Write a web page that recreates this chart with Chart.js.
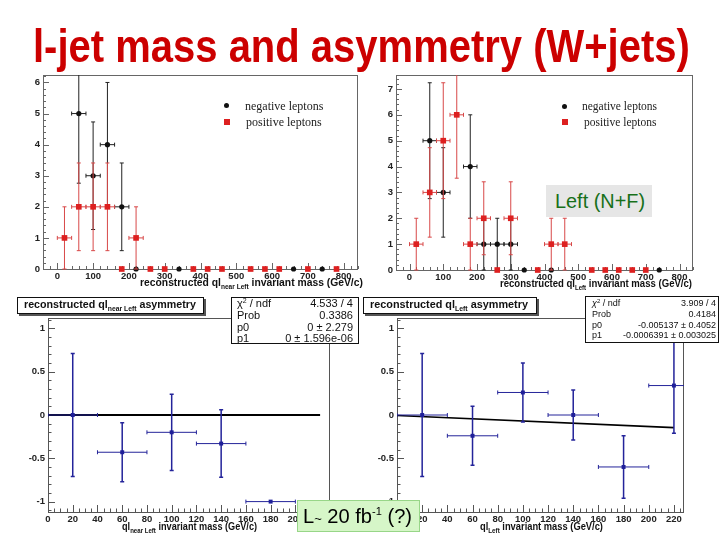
<!DOCTYPE html>
<html>
<head>
<meta charset="utf-8">
<title>l-jet mass and asymmetry (W+jets)</title>
<script src="https://cdn.jsdelivr.net/npm/chart.js@4.4.1/dist/chart.umd.min.js"></script>
<style>
  body { margin: 0; background: #fff; }
  #page { position: relative; width: 720px; height: 540px; overflow: hidden; font-family: "Liberation Sans", Arial, sans-serif; color: #111; }
  canvas { position: absolute; }
  .t { position: absolute; white-space: nowrap; line-height: 1; transform-origin: 0 50%; }
  .r { transform-origin: 100% 50%; }
  .b { font-weight: bold; }
  .sub { font-size: 7px; position: relative; top: 3px; }
  .sup { position: relative; line-height: 0; }
  .box { position: absolute; background: #fff; border: 1px solid #111; box-sizing: border-box; }
  .shadow { box-shadow: 2px 2px 0 #555; }
  .leg { font-family: "Liberation Serif", "DejaVu Serif", serif; color: #222; }
  .dot { position: absolute; width: 5px; height: 5px; border-radius: 50%; background: #111; }
  .sq { position: absolute; width: 6px; height: 6px; background: #dd2020; }
</style>
</head>
<body>
<div id="page">
  <canvas id="cTL"></canvas>
  <canvas id="cTR"></canvas>
  <canvas id="cBL"></canvas>
  <canvas id="cBR"></canvas>

  <div class="t b fit" data-w="657" style="left:33px;top:22px;font-size:47px;line-height:47px;color:#cc0000">l-jet mass and asymmetry (W+jets)</div>

  <!-- top legends -->
  <div class="dot" style="left:224px;top:103px"></div>
  <div class="sq" style="left:224px;top:119px"></div>
  <div class="t leg" style="left:245px;top:100px;font-size:12px">negative leptons</div>
  <div class="t leg" style="left:246px;top:116px;font-size:12px">positive leptons</div>
  <div class="dot" style="left:562px;top:104px"></div>
  <div class="sq" style="left:562px;top:119px"></div>
  <div class="t leg" style="left:582px;top:101px;font-size:11.5px">negative leptons</div>
  <div class="t leg" style="left:584px;top:117px;font-size:11.5px">positive leptons</div>

  <!-- top axis titles -->
  <div class="t b fit" data-w="223" style="left:140px;top:277px;font-size:11px">reconstructed ql<span class="sub">near Left</span> invariant mass (GeV/c)</div>
  <div class="t b fit" data-w="192" style="left:500px;top:278px;font-size:11px">reconstructed ql<span class="sub">Left</span> invariant mass (GeV/c)</div>

  <div style="position:absolute;left:546px;top:185px;width:106px;height:32px;background:#e6e6e6"></div>
  <div class="t fit" data-w="90" style="left:555px;top:191px;font-size:20px;color:#17701a">Left (N+F)</div>

  <!-- bottom titles -->
  <div class="box shadow" style="left:17px;top:297px;width:187px;height:17px"></div>
  <div class="t b fit" data-w="172" style="left:24px;top:299px;font-size:11px">reconstructed ql<span class="sub">near Left</span> asymmetry</div>
  <div class="box shadow" style="left:363px;top:297px;width:174px;height:17px"></div>
  <div class="t b fit" data-w="158" style="left:370px;top:299px;font-size:11px">reconstructed ql<span class="sub">Left</span> asymmetry</div>

  <!-- stats boxes -->
  <div class="box" style="left:231px;top:297px;width:128px;height:47px"></div>
  <div class="t" style="left:237px;top:298px;font-size:11px">χ<span class="sup" style="font-size:7px;top:-4px">2</span> / ndf</div>
  <div class="t" style="left:237px;top:310px;font-size:11px">Prob</div>
  <div class="t" style="left:237px;top:321.5px;font-size:11px">p0</div>
  <div class="t" style="left:237px;top:333px;font-size:11px">p1</div>
  <div class="t r" style="right:367px;top:298px;font-size:11px">4.533 / 4</div>
  <div class="t r" style="right:367px;top:310px;font-size:11px">0.3386</div>
  <div class="t r" style="right:367px;top:321.5px;font-size:11px">0 ± 2.279</div>
  <div class="t r" style="right:367px;top:333px;font-size:11px">0 ± 1.596e-06</div>

  <div class="box" style="left:585px;top:296px;width:134px;height:47px"></div>
  <div class="t" style="left:592px;top:299px;font-size:9px"><i>χ</i><span class="sup" style="font-size:6px;top:-3px">2</span> / ndf</div>
  <div class="t" style="left:592px;top:310px;font-size:9px">Prob</div>
  <div class="t" style="left:592px;top:320.5px;font-size:9px">p0</div>
  <div class="t" style="left:592px;top:330.5px;font-size:9px">p1</div>
  <div class="t r" style="right:4px;top:299px;font-size:9px">3.909 / 4</div>
  <div class="t r" style="right:4px;top:310px;font-size:9px">0.4184</div>
  <div class="t r" style="right:4px;top:320.5px;font-size:9px">-0.005137 ± 0.4052</div>
  <div class="t r" style="right:4px;top:330.5px;font-size:9px">-0.0006391 ± 0.003025</div>

  <!-- bottom axis titles -->
  <div class="t b fit" data-w="135" style="left:122px;top:521px;font-size:10.5px">ql<span class="sub">near Left</span> invariant mass (GeV/c)</div>
  <div class="t b fit" data-w="123" style="left:480px;top:521px;font-size:10.5px">ql<span class="sub">Left</span> invariant mass (GeV/c)</div>

  <div style="position:absolute;left:297px;top:500px;width:123px;height:32px;background:#d6f6c8;border:1px solid #98d688;box-sizing:border-box"></div>
  <div class="t fit" data-w="109" style="left:303px;top:506px;font-size:20px;color:#000">L<span style="font-size:13px">~</span> 20 fb<span class="sup" style="font-size:11px;top:-8px">-1</span> (?)</div>
</div>

<script>
// tick labels
const xTicksMass = [0, 100, 200, 300, 400, 500, 600, 700, 800];
const yTicksNearLeft = [0, 1, 2, 3, 4, 5, 6];
const yTicksLeft = [0, 1, 2, 3, 4, 5, 6, 7];
const xTicksAsym = [0, 20, 40, 60, 80, 100, 120, 140, 160, 180, 200, 220];
const yTicksAsym = [-1, -0.5, 0, 0.5, 1];

// near Left mass (bin centre, entries, error)
const nearNegX = [60, 100, 140, 180, 220, 340, 660, 740];
const nearNegY = [5, 3, 4, 2, 0, 0, 0, 0];
const nearNegErr = [2.24, 1.73, 2, 1.41, 0, 0, 0, 0];
const nearPosX = [20, 60, 100, 140, 180, 220, 260, 300, 380, 420, 460, 540, 580, 620, 700, 780];
const nearPosY = [1, 2, 2, 2, 0, 1, 0, 0, 0, 0, 0, 0, 0, 0, 0, 0];
const nearPosErr = [1, 1.41, 1.41, 1.41, 0, 1, 0, 0, 0, 0, 0, 0, 0, 0, 0, 0];

// Left mass
const leftNegX = [60, 100, 180, 220, 260, 300, 340, 420, 740];
const leftNegY = [5, 3, 4, 1, 1, 1, 0, 0, 0];
const leftNegErr = [2.24, 1.73, 2, 1, 1, 1, 0, 0, 0];
const leftPosX = [20, 60, 100, 140, 180, 220, 260, 300, 380, 420, 460, 540, 580, 620, 660, 700];
const leftPosY = [1, 3, 5, 6, 1, 2, 0, 2, 0, 1, 1, 0, 0, 0, 0, 0];
const leftPosErr = [1, 1.73, 2.24, 2.45, 1, 1.41, 0, 1.41, 0, 1, 1, 0, 0, 0, 0, 0];
const massBinHalf = 20;

// asymmetry
const asymNearX = [20, 60, 100, 140, 180];
const asymNearY = [0, -0.43, -0.2, -0.33, -1];
const asymNearErr = [0.71, 0.34, 0.44, 0.39, 0];
const asymLeftX = [20, 60, 100, 140, 180, 220];
const asymLeftY = [0, -0.24, 0.26, 0, -0.6, 0.34];
const asymLeftErr = [0.71, 0.34, 0.34, 0.29, 0.36, 0.55];
const asymBinHalf = 20;

// fit lines, read at both ends
const fitNearX = [0, 220];
const fitNearY = [0, 0];
const fitLeftX = [0, 220];
const fitLeftY = [-0.005, -0.146];

const pts = (xs, ys) => xs.map((x, i) => ({ x: x, y: ys[i] }));

// ROOT-like frame with inward ticks
const rootFrame = {
    id: 'rootFrame',
    beforeDatasetsDraw(chart, args, o) {
        const { ctx, chartArea: a, scales: { x, y } } = chart;
        ctx.save();
        ctx.strokeStyle = o.color;
        ctx.lineWidth = 1;
        ctx.strokeRect(Math.round(a.left) + 0.5, Math.round(a.top) + 0.5, Math.round(a.width) - 1, Math.round(a.height));
        ctx.beginPath();
        const isMajor = (s, v) => s.ticks.some(t => Math.abs(t.value - v) < 1e-6);
        for (let n = Math.ceil(x.min / o.xMinor - 1e-9); n * o.xMinor <= x.max + 1e-9; n++) {
            const v = n * o.xMinor;
            const px = Math.round(x.getPixelForValue(v)) + 0.5;
            const len = isMajor(x, v) ? o.majorLen : o.minorLen;
            ctx.moveTo(px, a.bottom);
            ctx.lineTo(px, a.bottom - len);
        }
        for (let n = Math.ceil(y.min / o.yMinor - 1e-9); n * o.yMinor <= y.max + 1e-9; n++) {
            const v = n * o.yMinor;
            const py = Math.round(y.getPixelForValue(v)) + 0.5;
            const len = isMajor(y, v) ? o.majorLen : o.minorLen;
            ctx.moveTo(a.left, py);
            ctx.lineTo(a.left + len, py);
        }
        ctx.stroke();
        ctx.restore();
    }
};

// error bars drawn just under each dataset's markers
const errorBars = {
    id: 'errorBars',
    beforeDatasetDraw(chart, args) {
        const ds = chart.data.datasets[args.index];
        if (!ds.errY) return;
        const { ctx, chartArea: a, scales: { x, y } } = chart;
        const cap = ds.capSize || 2;
        ctx.save();
        ctx.beginPath();
        ctx.rect(a.left, a.top, a.width, a.height + 1);
        ctx.clip();
        ctx.strokeStyle = ds.errColor;
        ds.data.forEach((p, i) => {
            const cx = x.getPixelForValue(p.x), cy = y.getPixelForValue(p.y);
            const ey = ds.errY[i];
            if (ds.errX && !(ds.skipZero && p.y === 0)) {
                const x0 = x.getPixelForValue(p.x - ds.errX), x1 = x.getPixelForValue(p.x + ds.errX);
                ctx.beginPath();
                ctx.lineWidth = ds.errXWidth || 1;
                ctx.moveTo(x0, cy); ctx.lineTo(x1, cy);
                ctx.moveTo(x0, cy - cap); ctx.lineTo(x0, cy + cap);
                ctx.moveTo(x1, cy - cap); ctx.lineTo(x1, cy + cap);
                ctx.stroke();
            }
            if (ey) {
                const y0 = y.getPixelForValue(p.y - ey), y1 = y.getPixelForValue(p.y + ey);
                ctx.beginPath();
                ctx.lineWidth = ds.errYWidth || 1;
                ctx.moveTo(cx, y0); ctx.lineTo(cx, y1);
                ctx.moveTo(cx - cap, y0); ctx.lineTo(cx + cap, y0);
                ctx.moveTo(cx - cap, y1); ctx.lineTo(cx + cap, y1);
                ctx.stroke();
            }
        });
        ctx.restore();
    }
};

function scaleOpt(min, max, ticks, isX, size) {
    return {
        type: 'linear',
        min: min,
        max: max,
        grid: { display: false, drawTicks: false },
        border: { display: false },
        afterBuildTicks: s => { s.ticks = ticks.map(v => ({ value: v })); },
        afterFit: s => { if (isX) s.height = size; else s.width = size; },
        ticks: {
            autoSkip: false,
            maxRotation: 0,
            padding: isX ? 2 : 3,
            color: '#222',
            font: { family: 'Liberation Sans', size: 9.5, weight: 'bold' },
            callback: v => String(v)
        }
    };
}

function makeChart(id, box, area, o) {
    const cv = document.getElementById(id);
    cv.width = box.w;
    cv.height = box.h;
    cv.style.left = box.x + 'px';
    cv.style.top = box.y + 'px';
    return new Chart(cv, {
        type: 'scatter',
        data: { datasets: o.datasets },
        options: {
            responsive: false,
            animation: false,
            devicePixelRatio: 1,
            events: [],
            layout: {
                padding: {
                    left: area.l - box.x - o.yw,
                    top: area.t - box.y,
                    right: box.x + box.w - area.r,
                    bottom: box.y + box.h - area.b - o.xh
                }
            },
            scales: {
                x: scaleOpt(o.xMin, o.xMax, o.xTicks, true, o.xh),
                y: scaleOpt(o.yMin, o.yMax, o.yTicks, false, o.yw)
            },
            plugins: {
                legend: { display: false },
                tooltip: { enabled: false },
                rootFrame: o.frame
            }
        },
        plugins: [rootFrame, errorBars]
    });
}

function massSets(posX, posY, posErr, negX, negY, negErr) {
    return [
        {
            data: pts(posX, posY), errY: posErr, errX: massBinHalf, skipZero: true,
            errColor: '#d84848', pointStyle: 'rect', pointRadius: 4, borderWidth: 0,
            backgroundColor: '#dd2020', borderColor: '#dd2020', clip: false
        },
        {
            data: pts(negX, negY), errY: negErr, errX: massBinHalf, skipZero: true,
            errColor: '#222', pointStyle: 'circle', pointRadius: 2.6, borderWidth: 0,
            backgroundColor: '#111', borderColor: '#111', clip: false
        }
    ];
}

function asymSets(xs, ys, errs, fx, fy, fitWidth) {
    return [
        {
            data: pts(xs, ys), errY: errs, errX: asymBinHalf, errYWidth: 1.5, errXWidth: 1,
            errColor: '#24249a', pointStyle: 'rect', pointRadius: 2.8, borderWidth: 0,
            backgroundColor: '#1f1f99', borderColor: '#1f1f99', clip: false
        },
        {
            data: pts(fx, fy), showLine: true, borderColor: '#000', borderWidth: fitWidth,
            pointRadius: 0, fill: false
        }
    ];
}

const massFrame = { color: '#666', xMinor: 20, yMinor: 0.2, majorLen: 6, minorLen: 3 };
const asymFrame = { color: '#555', xMinor: 5, yMinor: 0.1, majorLen: 7, minorLen: 3.5 };

makeChart('cTL', { x: 0, y: 60, w: 362, h: 240 }, { l: 43, t: 75, r: 361, b: 269 }, {
    yw: 20, xh: 14, xMin: -40, xMax: 840, yMin: 0, yMax: 6.24,
    xTicks: xTicksMass, yTicks: yTicksNearLeft, frame: massFrame,
    datasets: massSets(nearPosX, nearPosY, nearPosErr, nearNegX, nearNegY, nearNegErr)
});

makeChart('cTR', { x: 362, y: 60, w: 358, h: 240 }, { l: 396, t: 75, r: 693, b: 270 }, {
    yw: 20, xh: 14, xMin: -40, xMax: 840, yMin: 0, yMax: 7.54,
    xTicks: xTicksMass, yTicks: yTicksLeft, frame: massFrame,
    datasets: massSets(leftPosX, leftPosY, leftPosErr, leftNegX, leftNegY, leftNegErr)
});

makeChart('cBL', { x: 0, y: 300, w: 362, h: 240 }, { l: 48, t: 318, r: 330, b: 512 }, {
    yw: 26, xh: 13, xMin: 0, xMax: 228, yMin: -1.12, yMax: 1.12,
    xTicks: xTicksAsym, yTicks: yTicksAsym, frame: asymFrame,
    datasets: asymSets(asymNearX, asymNearY, asymNearErr, fitNearX, fitNearY, 2.2)
});

makeChart('cBR', { x: 362, y: 300, w: 358, h: 240 }, { l: 397, t: 318, r: 684, b: 512 }, {
    yw: 26, xh: 13, xMin: 0, xMax: 228, yMin: -1.12, yMax: 1.12,
    xTicks: xTicksAsym, yTicks: yTicksAsym, frame: asymFrame,
    datasets: asymSets(asymLeftX, asymLeftY, asymLeftErr, fitLeftX, fitLeftY, 1.6)
});

// squeeze text spans to the widths measured on the slide
document.querySelectorAll('.fit').forEach(el => {
    const w = el.getBoundingClientRect().width;
    if (w > 0) el.style.transform = 'scaleX(' + (el.dataset.w / w).toFixed(3) + ')';
});
</script>
</body>
</html>
